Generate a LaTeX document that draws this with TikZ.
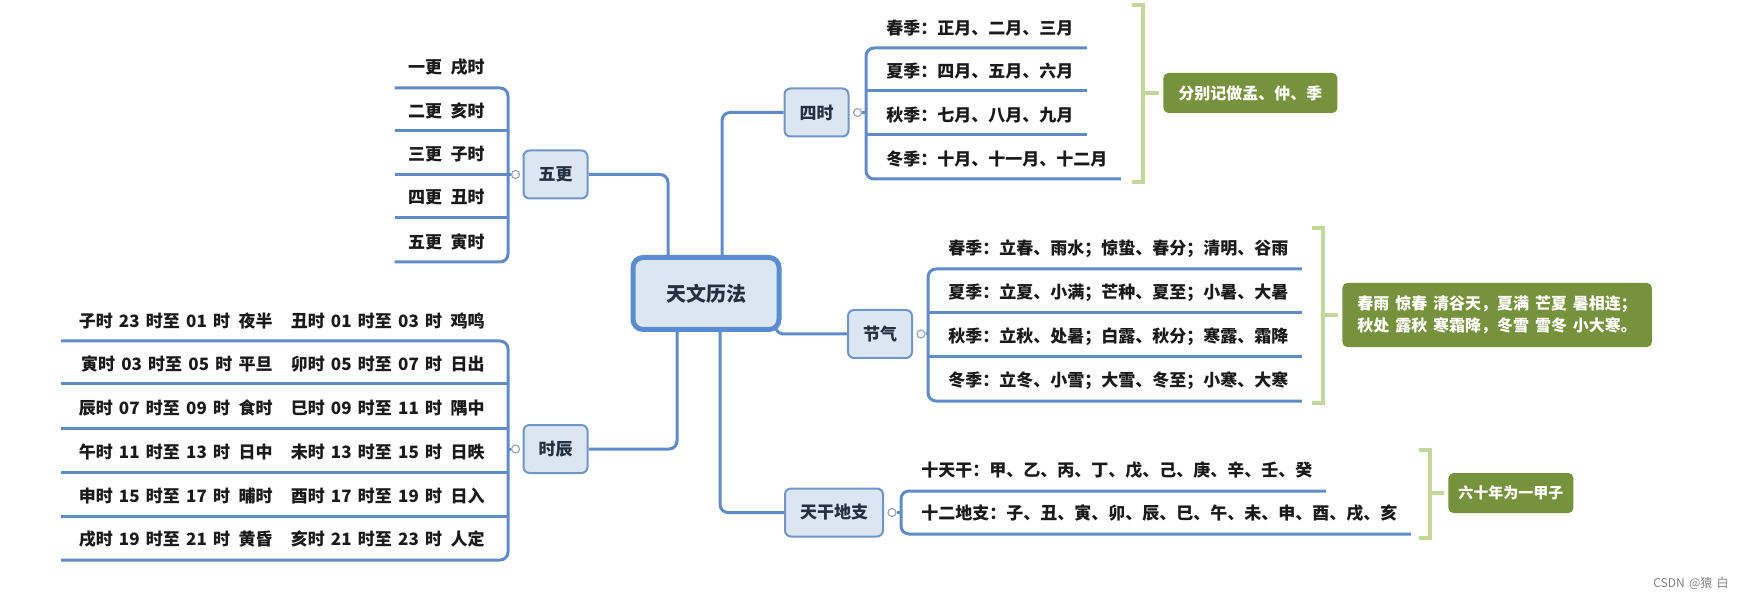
\documentclass[tikz,border=0pt]{standalone}
\usepackage{fontspec}
\setmainfont{Noto Sans CJK SC}[WordSpace=1.6]
\usepackage{xcolor}
\usepackage{tikz}
\usetikzlibrary{positioning,calc,backgrounds}

\definecolor{linkblue}{HTML}{5F8CC8}
\definecolor{boxfill}{HTML}{DCE6F2}
\definecolor{boxdraw}{HTML}{7096C8}
\definecolor{rootdraw}{HTML}{5A8CD0}
\definecolor{topictext}{HTML}{22303F}
\definecolor{leaftext}{HTML}{1A1A1A}
\definecolor{notegreen}{HTML}{76923C}
\definecolor{bracegreen}{HTML}{C4D79B}
\definecolor{dotgray}{HTML}{9AA6B8}

% one row of the shichen list: two right-aligned halves
\newcommand{\hourrow}[2]{\makebox[99pt][r]{#1}\hspace{10pt}\makebox[96pt][r]{#2}}

\begin{document}
\begin{tikzpicture}[
  x=0.5pt, y=-0.5pt,
  root/.style={draw=rootdraw, line width=2.5pt, fill=boxfill, rounded corners=5pt, minimum width=73pt, minimum height=36pt, text=topictext, font=\fontsize{10}{12}\selectfont\bfseries},
  topic/.style={draw=boxdraw, line width=1pt, fill=boxfill, rounded corners=3pt, minimum height=24pt, inner xsep=7.5pt, text=topictext, font=\fontsize{8.5}{10}\selectfont\bfseries},
  leaf/.style={inner xsep=6.5pt, inner ysep=0pt, minimum height=20pt, text=leaftext, font=\fontsize{8.5}{10}\selectfont\bfseries},
  link/.style={draw=linkblue, line width=1.5pt, rounded corners=4pt},
  dot/.style={circle, draw=dotgray, fill=white, line width=0.6pt, inner sep=0pt, minimum size=4pt},
  note/.style={fill=notegreen, rounded corners=2.5pt, text=white, inner xsep=7.5pt, inner ysep=4pt, minimum height=20pt, align=left, font=\fontsize{8}{11}\selectfont\bfseries},
  brace/.style={draw=bracegreen, line width=2pt}
]
\useasboundingbox (0,0) rectangle (1744,598);

% centre and main topics
\node[root] (root) at (706,293.5) {天文历法};
\node[topic] (wugeng) at (555.5,174.5) {五更};
\node[topic] (shichen) at (555.5,449) {时辰};
\node[topic] (sishi) at (816.5,112.5) {四时};
\node[topic] (jieqi) at (880,334) {节气};
\node[topic] (ganzhi) at (834,512.5) {天干地支};

% collapse markers
\node[dot] (wgdot) at ($(wugeng.west)+(-7,0)$) {};
\node[dot] (scdot) at ($(shichen.west)+(-7,0)$) {};
\node[dot] (ssdot) at ($(sishi.east)+(8,0)$) {};
\node[dot] (jqdot) at ($(jieqi.east)+(8,0)$) {};
\node[dot] (gzdot) at ($(ganzhi.east)+(8,0)$) {};

% columns of the brackets
\coordinate (wgbr) at (508,174.5);
\coordinate (scbr) at (508,449);
\coordinate (ssbr) at (866,112.5);
\coordinate (jqbr) at (928,334);
\coordinate (gzbr) at (901,512.5);

% 五更
\node[leaf, anchor=south east] (wg1) at (498,88) {一更\enspace 戌时};
\node[leaf, anchor=south east] (wg2) at (498,131) {二更\enspace 亥时};
\node[leaf, anchor=south east] (wg3) at (498,175) {三更\enspace 子时};
\node[leaf, anchor=south east] (wg4) at (498,218) {四更\enspace 丑时};
\node[leaf, anchor=south east] (wg5) at (498,262) {五更\enspace 寅时};

% 时辰
\node[leaf, anchor=south east] (sc1) at (498,341) {\hourrow{子时 23 时至 01 时\enspace 夜半}{丑时 01 时至 03 时\enspace 鸡鸣}};
\node[leaf, anchor=south east] (sc2) at (498,384) {\hourrow{寅时 03 时至 05 时 平旦}{卯时 05 时至 07 时\enspace 日出}};
\node[leaf, anchor=south east] (sc3) at (498,428) {\hourrow{辰时 07 时至 09 时\enspace 食时}{巳时 09 时至 11 时\enspace 隅中}};
\node[leaf, anchor=south east] (sc4) at (498,472) {\hourrow{午时 11 时至 13 时\enspace 日中}{未时 13 时至 15 时\enspace 日昳}};
\node[leaf, anchor=south east] (sc5) at (498,516) {\hourrow{申时 15 时至 17 时\enspace 晡时}{酉时 17 时至 19 时\enspace 日入}};
\node[leaf, anchor=south east] (sc6) at (498,560) {\hourrow{戌时 19 时至 21 时\enspace 黄昏}{亥时 21 时至 23 时\enspace 人定}};

% 四时
\node[leaf, anchor=south west] (ss1) at (873,48) {春季：正月、二月、三月};
\node[leaf, anchor=south west] (ss2) at (873,91) {夏季：四月、五月、六月};
\node[leaf, anchor=south west] (ss3) at (873,135) {秋季：七月、八月、九月};
\node[leaf, anchor=south west] (ss4) at (873,179) {冬季：十月、十一月、十二月};

% 节气
\node[leaf, anchor=south west] (jq1) at (935,269) {春季：立春、雨水；惊蛰、春分；清明、谷雨};
\node[leaf, anchor=south west] (jq2) at (935,313) {夏季：立夏、小满；芒种、夏至；小暑、大暑};
\node[leaf, anchor=south west] (jq3) at (935,357) {秋季：立秋、处暑；白露、秋分；寒露、霜降};
\node[leaf, anchor=south west] (jq4) at (935,401) {冬季：立冬、小雪；大雪、冬至；小寒、大寒};

% 天干地支
\node[leaf, anchor=south west] (gz1) at (908,491) {十天干：甲、乙、丙、丁、戊、己、庚、辛、壬、癸};
\node[leaf, anchor=south west] (gz2) at (908,534) {十二地支：子、丑、寅、卯、辰、巳、午、未、申、酉、戌、亥};

% green notes
\node[note, anchor=west] (ssnote) at (1163,93) {分别记做孟、仲、季};
\node[note, anchor=west, inner ysep=6.5pt] (jqnote) at (1342,315) {春雨 惊春 清谷天，夏满 芒夏 暑相连；\\秋处 露秋 寒霜降，冬雪 雪冬 小大寒。};
\node[note, anchor=west, inner xsep=5pt, font=\fontsize{7.5}{10}\selectfont\bfseries] (gznote) at (1448,493) {六十年为一甲子};

\node[text=gray, font=\fontsize{6}{7}\selectfont] (mark) at (1691,583) {CSDN @猿 白};

% branches from the centre
\begin{scope}[on background layer]
  \draw[link] (wugeng.east) -| ($(root.north)+(-38,0)$);
  \draw[link] (sishi.west) -| ($(root.north)+(16,0)$);
  \draw[link] (shichen.east) -| ($(root.south)+(-29,0)$);
  \draw[link] (ganzhi.west) -| ($(root.south)+(14,0)$);
  \draw[link] ($(root.south east)+(-6,-6)$) |- (jieqi.west);
\end{scope}

% leaf lines
\draw[link] (wg1.south west) -- (wg1.south west -| wgbr) -- (wg5.south west -| wgbr) -- (wg5.south west);
\foreach \i in {2,3,4} \draw[link] (wg\i.south west) -- (wg\i.south west -| wgbr);
\draw[link] (sc1.south west) -- (sc1.south west -| scbr) -- (sc6.south west -| scbr) -- (sc6.south west);
\foreach \i in {2,...,5} \draw[link] (sc\i.south west) -- (sc\i.south west -| scbr);
\draw[link] (ss1.south east) -- (ss1.south east -| ssbr) -- (ss4.south east -| ssbr) -- (ss4.south east);
\foreach \i in {2,3} \draw[link] (ss\i.south east -| ssbr) -- (ss\i.south east);
\draw[link] (jq1.south east) -- (jq1.south east -| jqbr) -- (jq4.south east -| jqbr) -- (jq4.south east);
\foreach \i in {2,3} \draw[link] (jq\i.south east -| jqbr) -- (jq\i.south east);
\draw[link] (gz1.south east) -- (gz1.south east -| gzbr) -- (gz2.south east -| gzbr) -- (gz2.south east);

% markers to brackets
\draw[link] (wgdot.west) -- (wgdot -| wgbr);
\draw[link] (scdot.west) -- (scdot -| scbr);
\draw[link] (ssdot.east) -- (ssdot -| ssbr);
\draw[link] (jqdot.east) -- (jqdot -| jqbr);
\draw[link] (gzdot.east) -- (gzdot -| gzbr);

% green brackets
\coordinate (ssbt) at (1143,5);
\coordinate (ssbb) at (1143,182);
\coordinate (jqbt) at (1323,228);
\coordinate (jqbb) at (1323,403);
\coordinate (gzbt) at (1430,450);
\coordinate (gzbb) at (1430,538);
\draw[brace] ($(ssbt)+(-11,0)$) -- (ssbt) -- (ssbb) -- ($(ssbb)+(-11,0)$);
\draw[brace, shorten >=2pt] (ssbt |- ssnote.west) -- (ssnote.west);
\draw[brace] ($(jqbt)+(-11,0)$) -- (jqbt) -- (jqbb) -- ($(jqbb)+(-11,0)$);
\draw[brace, shorten >=2pt] (jqbt |- jqnote.west) -- (jqnote.west);
\draw[brace] ($(gzbt)+(-11,0)$) -- (gzbt) -- (gzbb) -- ($(gzbb)+(-11,0)$);
\draw[brace, shorten >=2pt] (gzbt |- gznote.west) -- (gznote.west);
\end{tikzpicture}
\end{document}
